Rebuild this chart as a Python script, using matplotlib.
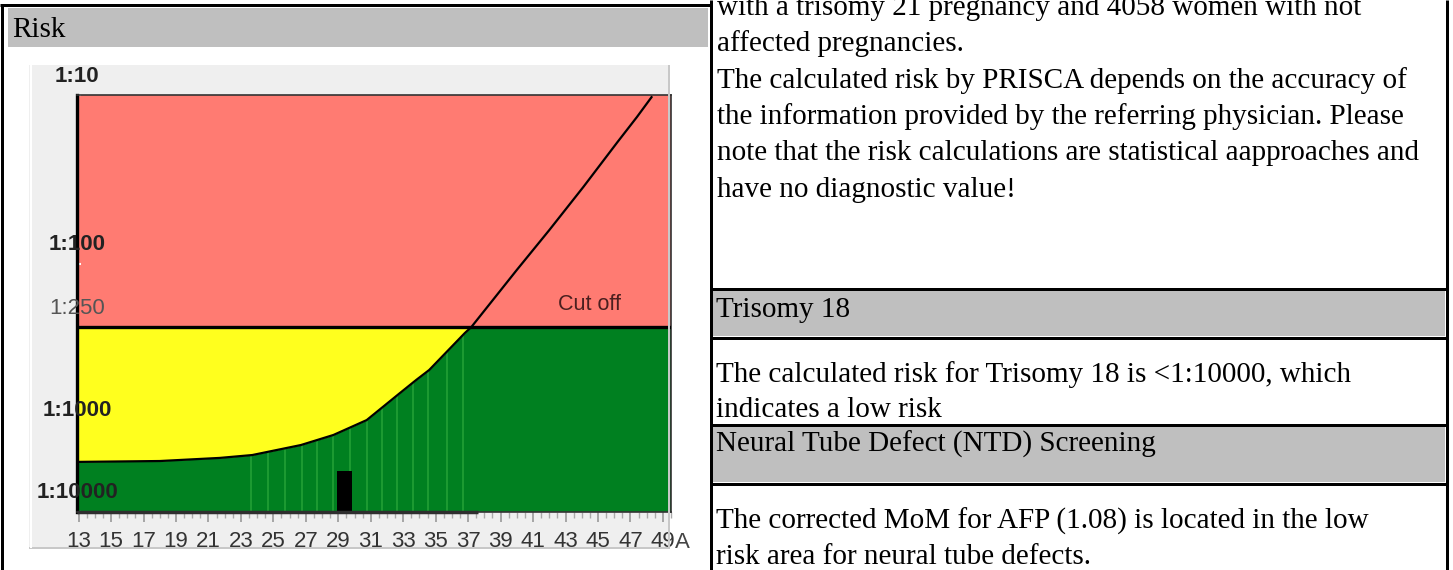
import numpy as np
import matplotlib
matplotlib.use("Agg")
import matplotlib.pyplot as plt
from matplotlib import transforms
from matplotlib.patches import Rectangle
from matplotlib.lines import Line2D

W, H = 1453, 570  # page size in pixels

# risk curve (maternal age vs. risk 1:n)
age = [12.9, 18.0, 21.7, 23.7, 26.7, 28.7, 30.75, 32.8, 33.8, 34.6, 36.8, 37.2,
       40.0, 42.0, 44.1, 46.2, 47.4, 48.3]
risk = [2450, 2390, 2190, 2020, 1525, 1150, 875, 608, 510, 446, 271, 250,
        109, 63, 35, 19, 13.5, 10.3]
cutoff = 250
patient_age = 29.4
patient_risk = 3200
bar_ages = [23.65, 24.65, 25.7, 26.75, 27.7, 28.7, 29.75, 30.75, 31.7, 32.6,
            33.6, 34.5, 35.7, 36.7]
low_end = 37.6

ytick_vals = [10, 100, 250, 1000, 10000]
ytick_labels = ["1:10", "1:100", "1:250", "1:1000", "1:10000"]
ytick_pos = [417, 248, 185, 82, 0]  # how the chart spaces the ratios
xticks = list(range(13, 50, 2))

header_left = "Risk"
para_lines = ["with a trisomy 21 pregnancy and 4058 women with not",
              "affected pregnancies.",
              "The calculated risk by PRISCA depends on the accuracy of",
              "the information provided by the referring physician. Please",
              "note that the risk calculations are statistical aapproaches and",
              "have no diagnostic value!"]
t18_head = "Trisomy 18"
t18_lines = ["The calculated risk for Trisomy 18 is <1:10000, which",
             "indicates a low risk"]
ntd_head = "Neural Tube Defect (NTD) Screening"
ntd_lines = ["The corrected MoM for AFP (1.08) is located in the low",
             "risk area for neural tube defects."]

RED = "#ff7b72"
YELLOW = "#ffff1e"
GREEN = "#008020"
GRAY = "#bfbfbf"
SANS = ["Liberation Sans", "DejaVu Sans"]
SERIF = ["Liberation Serif", "DejaVu Serif"]
FS = 21


def fx(x):
    return x / W


def fy(y):
    return 1 - y / H


fig = plt.figure(figsize=(W / 100, H / 100), dpi=100)


def hline(y, x0, x1, lw=3, color="black"):
    fig.add_artist(Line2D([fx(x0), fx(x1)], [fy(y), fy(y)], color=color,
                          lw=lw * 0.72, zorder=5, solid_capstyle="butt"))


def vline(x, y0, y1, lw=3, color="black"):
    fig.add_artist(Line2D([fx(x), fx(x)], [fy(y0), fy(y1)], color=color,
                          lw=lw * 0.72, zorder=5, solid_capstyle="butt"))


def box(x0, y0, x1, y1, color):
    fig.add_artist(Rectangle((fx(x0), fy(y1)), fx(x1) - fx(x0), fy(y0) - fy(y1),
                             color=color, lw=0, zorder=-2))


# ---- page frame ----
box(8, 8, 708, 47, GRAY)
box(713, 291, 1445, 336, GRAY)
box(713, 427, 1445, 482, GRAY)
hline(5, 0, 712)
vline(2, 4, 570)
vline(711, 0, 570)
vline(1447, 0, 570)
hline(289, 710, 1448)
hline(338, 710, 1448)
hline(425, 710, 1448)
hline(484, 710, 1448)

fig.text(fx(12), fy(37), header_left, family=SERIF, fontsize=FS, va="baseline")
for i, line in enumerate(para_lines):
    fig.text(fx(717), fy(15 + i * 36.3), line, family=SERIF, fontsize=FS, va="baseline")
fig.text(fx(716), fy(317), t18_head, family=SERIF, fontsize=FS, va="baseline")
for i, line in enumerate(t18_lines):
    fig.text(fx(716), fy(382 + i * 35), line, family=SERIF, fontsize=FS, va="baseline")
fig.text(fx(716), fy(452), ntd_head, family=SERIF, fontsize=FS, va="baseline")
for i, line in enumerate(ntd_lines):
    fig.text(fx(716), fy(529 + i * 35), line, family=SERIF, fontsize=FS, va="baseline")

# chart image background
box(29, 65, 669, 548, "#efefef")
hline(548, 29, 670, lw=2, color="#c8c8c8")
vline(669, 65, 549, lw=2, color="#c8c8c8")
vline(31, 65, 548, lw=2, color="white")
fig.text(fx(675), fy(542), "A", family=SANS, fontsize=16, color="#444444", va="center")

# ---- chart ----
ax = fig.add_axes([fx(77), fy(512), (671 - 77) / W, (512 - 95) / H])

# the chart plots probability 1/n on its own stretched log axis
xp = np.log10(1 / np.array(ytick_vals[::-1], dtype=float))
fp = np.array(ytick_pos[::-1], dtype=float)


def fwd(p):
    p = np.clip(np.asarray(p, dtype=float), 1e-12, None)
    return np.interp(np.log10(p), xp, fp)


def inv(q):
    return 10 ** np.interp(np.asarray(q, dtype=float), fp, xp)


prob = 1 / np.array(risk, dtype=float)
pcut = 1 / cutoff
pbot = 1 / ytick_vals[-1]
ptop = 1 / ytick_vals[0]

ax.set_yscale("function", functions=(fwd, inv))
ax.set_xlim(12.9, 49.5)
ax.set_ylim(pbot, ptop)

ax.axhspan(pcut, ptop, color=RED, lw=0, zorder=0)
ax.axhspan(pbot, pcut, color=GREEN, lw=0, zorder=0)
ax.vlines(bar_ages, pbot, pcut, color="#22a035", lw=1.2, zorder=1)
ax.fill_between(age, np.minimum(prob, pcut), pcut, color=YELLOW, lw=0, zorder=2)
ax.plot(age, prob, color="black", lw=1.6, zorder=4)
ax.axhline(pcut, color="black", lw=2.4, zorder=5)
ax.bar(patient_age, 1 / patient_risk - pbot, bottom=pbot, width=0.92, color="black", zorder=6)
ax.hlines(pbot, ax.get_xlim()[0], low_end, color="#2e2e2e", lw=2.5, zorder=6, clip_on=False)

ax.text(44.5, pcut, "Cut off", family=SANS, fontsize=15.5, color="#4a1f1f",
        ha="center", va="center",
        transform=transforms.offset_copy(ax.transData, fig=fig, y=22, units="dots"))

lab_tr = transforms.offset_copy(ax.get_yaxis_transform(), fig=fig, y=19, units="dots")
for v, lab in zip(ytick_vals, ytick_labels):
    if v == cutoff:
        ax.text(0, 1 / v, lab, transform=lab_tr, family=SANS, fontsize=16,
                color="#555555", ha="center", va="center", clip_on=False, zorder=8)
    else:
        ax.text(0, 1 / v, lab, transform=lab_tr, family=SANS, fontsize=16,
                fontweight="bold", color="#222222", ha="center", va="center",
                clip_on=False, zorder=8)

ax.set_yticks([1 / v for v in ytick_vals])
ax.set_yticklabels([])
ax.yaxis.set_minor_locator(matplotlib.ticker.NullLocator())
ax.tick_params(axis="y", direction="in", length=3, width=1.5, color="white")

ax.set_xticks(xticks)
ax.set_xticks(np.arange(13, 50, 0.5), minor=True)
ax.tick_params(axis="x", which="major", length=7, width=1.2, color="#999999",
               labelsize=16, labelcolor="#333333", pad=7)
ax.tick_params(axis="x", which="minor", length=4, width=1, color="#aaaaaa")
for lab in ax.get_xticklabels():
    lab.set_family(SANS)

ax.spines["left"].set_linewidth(2.4)
ax.spines["left"].set_color("black")
for s in ["top", "right", "bottom"]:
    ax.spines[s].set_linewidth(1.2)
    ax.spines[s].set_color("#333333")

fig.savefig("out.png", dpi=100)
